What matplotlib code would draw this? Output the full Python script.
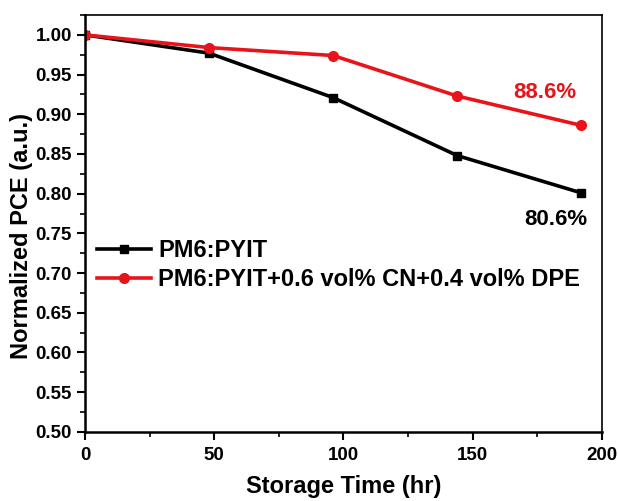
import matplotlib.pyplot as plt
from matplotlib.ticker import MultipleLocator

plt.rcParams['font.family'] = ['Liberation Sans', 'DejaVu Sans']
plt.rcParams['font.weight'] = 'bold'

# storage stability data
hours = [0, 48, 96, 144, 192]
pce_pristine = [1.000, 0.977, 0.921, 0.848, 0.801]
pce_additive = [1.000, 0.984, 0.974, 0.923, 0.886]
labels = ["PM6:PYIT", "PM6:PYIT+0.6 vol% CN+0.4 vol% DPE"]
final_text = ["80.6%", "88.6%"]

fig = plt.figure(figsize=(6.18, 5.01), dpi=100)
ax = fig.add_axes([0.1375, 0.138, 0.8365, 0.832])

ax.plot(hours, pce_pristine, color='black', lw=2.6, marker='s', ms=6, label=labels[0])
ax.plot(hours, pce_additive, color='#e8141b', lw=2.6, marker='o', ms=7, label=labels[1])

ax.text(182, 0.768, final_text[0], color='black', fontsize=16, ha='center', va='center', fontweight='bold')
ax.text(178, 0.928, final_text[1], color='#e8141b', fontsize=16, ha='center', va='center', fontweight='bold')

ax.set_xlim(0, 200)
ax.set_ylim(0.5, 1.025)
ax.xaxis.set_major_locator(MultipleLocator(50))
ax.xaxis.set_minor_locator(MultipleLocator(25))
ax.yaxis.set_major_locator(MultipleLocator(0.05))
ax.yaxis.set_minor_locator(MultipleLocator(0.025))
ax.yaxis.set_major_formatter(plt.FormatStrFormatter('%.2f'))
ax.tick_params(which='major', direction='out', length=6, width=1.5, labelsize=13.5)
ax.tick_params(axis='x', which='major', pad=5)
ax.tick_params(which='minor', direction='out', length=3.5, width=1.2)
for side in ['left', 'bottom']:
    ax.spines[side].set_linewidth(1.8)
for side in ['top', 'right']:
    ax.spines[side].set_linewidth(1.2)

ax.set_xlabel("Storage Time (hr)", fontsize=17, fontweight='bold', labelpad=8)
ax.set_ylabel("Normalized PCE (a.u.)", fontsize=17, fontweight='bold')
ax.yaxis.set_label_coords(-0.10, 0.47)

ax.legend(loc='upper left', bbox_to_anchor=(-0.005, 0.497), frameon=False, fontsize=17,
          handlelength=2.3, handletextpad=0.3, labelspacing=0.25, borderaxespad=0.2)

fig.savefig("out.png", dpi=100)
